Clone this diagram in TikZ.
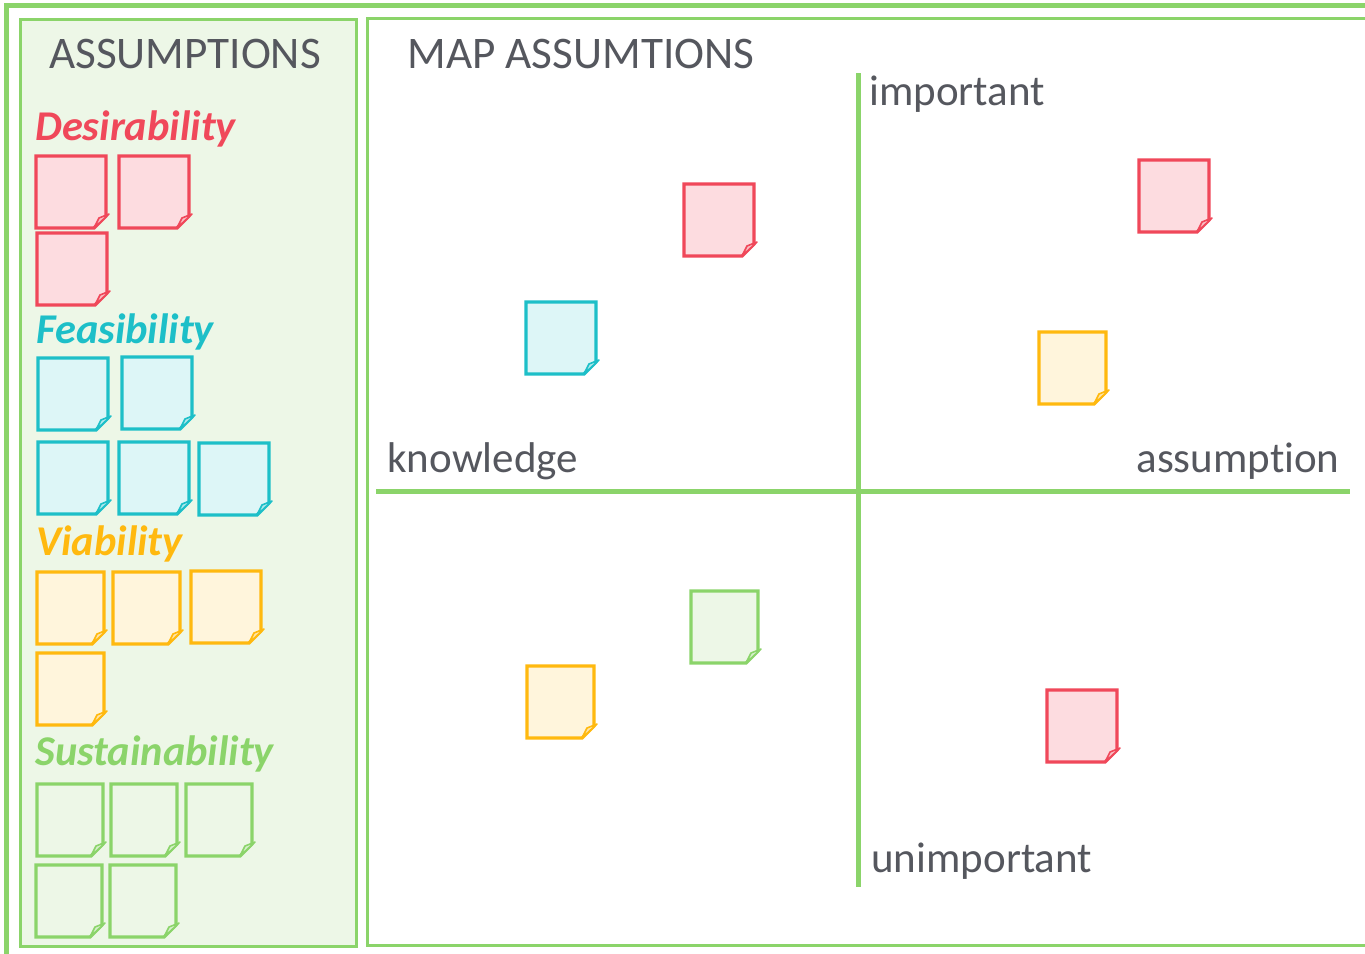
\documentclass[tikz,border=0pt]{standalone}
\usepackage{fontspec}
\setmainfont{Carlito}[Ligatures={TeX,NoCommon}]
\usepackage{tikz}

\definecolor{framegreen}{HTML}{8BD46A}
\definecolor{panelgreen}{HTML}{EDF7E7}
\definecolor{desline}{HTML}{F0485A}
\definecolor{desfill}{HTML}{FDDCE0}
\definecolor{fealine}{HTML}{1DBFC8}
\definecolor{feafill}{HTML}{DDF6F7}
\definecolor{vialine}{HTML}{FFB90F}
\definecolor{viafill}{HTML}{FFF5DC}
\definecolor{susline}{HTML}{8BD46A}
\definecolor{susfill}{HTML}{EDF7E7}
\definecolor{labelgray}{HTML}{55575E}

% post-it : couleur du trait, couleur du fond, x, y, largeur
\newcommand{\sticky}[5]{%
  \filldraw[stickyline, draw=#1, fill=#2] (#3,#4) -- ++(#5,0) -- ++(0,60) -- ++(-12,12) -- ++({-#5+12},0) -- cycle;
  \filldraw[flapline, draw=#1, fill=#1!35!white] (#3,#4) ++({#5-12},72) -- ++(15,-14) -- ++(-10,4) -- cycle;
}

\begin{document}
\begin{tikzpicture}[
    x=0.5pt, y=-0.5pt,
    % Cadres verts
    frameline/.style={draw=framegreen, line width=2.5pt},
    panelline/.style={draw=framegreen, line width=1.5pt},
    axisline/.style={draw=framegreen, line width=2.5pt},
    % Post-it
    stickyline/.style={line width=1.6pt, line join=miter},
    flapline/.style={line width=0.8pt, line join=round},
    % Textes
    heading/.style={font=\fontsize{22.6}{27}\selectfont, text=labelgray, inner sep=0pt},
    axislabel/.style={font=\fontsize{21.5}{26}\selectfont, text=labelgray, inner sep=0pt},
    category/.style={font=\fontsize{21.2}{26}\selectfont\bfseries\itshape, inner sep=0pt, anchor=base west}
]
\useasboundingbox (0,0) rectangle (1365,953);

% Cadres
\draw[frameline] (6,5) rectangle (1375,965);
\filldraw[panelline, fill=panelgreen] (20,19) rectangle (356,946);
\filldraw[panelline, fill=white] (367,18) rectangle (1375,945);

% Titres
\node[heading, anchor=base] (asstitle) at (185,68) {ASSUMPTIONS};
\node[heading, anchor=base west] (maptitle) at (407,68) {MAP ASSUMTIONS};

% Colonne de gauche
\node[category, text=desline] (desirability) at (35,140) {Desirability};
\foreach \x/\y/\w in {36/156/70, 119/156/70, 37/233/70}
    \sticky{desline}{desfill}{\x}{\y}{\w};

\node[category, text=fealine] (feasibility) at (36,343) {Feasibility};
\foreach \x/\y/\w in {38/358/70, 122/357/70, 38/442/70, 119/442/70, 199/443/70}
    \sticky{fealine}{feafill}{\x}{\y}{\w};

\node[category, text=vialine] (viability) at (36,555) {Viability};
\foreach \x/\y/\w in {37/572/67, 113/572/67, 191/571/70, 37/653/67}
    \sticky{vialine}{viafill}{\x}{\y}{\w};

\node[category, text=susline] (sustainability) at (35,765) {Sustainability};
\foreach \x/\y/\w in {37/784/66, 111/784/66, 186/784/66, 36/865/66, 110/865/66}
    \sticky{susline}{susfill}{\x}{\y}{\w};

% Axes de la carte
\coordinate (kleft) at (376,491);
\coordinate (kright) at (1350,491);
\coordinate (itop) at (858,73);
\coordinate (ibottom) at (858,887);
\draw[axisline] (kleft) -- (kright);
\draw[axisline] (itop) -- (ibottom);

\node[axislabel, anchor=base west] (important) at (869,105) {important};
\node[axislabel, anchor=base west] (unimportant) at (871,872) {unimportant};
\node[axislabel, anchor=base west] (knowledge) at (387,472) {knowledge};
\node[axislabel, anchor=base east] (assumption) at (1340,472) {assumption};

% Post-it places sur la carte
\sticky{desline}{desfill}{684}{184}{70};
\sticky{fealine}{feafill}{526}{302}{70};
\sticky{desline}{desfill}{1139}{160}{70};
\sticky{vialine}{viafill}{1039}{332}{67};
\sticky{susline}{susfill}{691}{591}{67};
\sticky{vialine}{viafill}{527}{666}{67};
\sticky{desline}{desfill}{1047}{690}{70};

\end{tikzpicture}
\end{document}
